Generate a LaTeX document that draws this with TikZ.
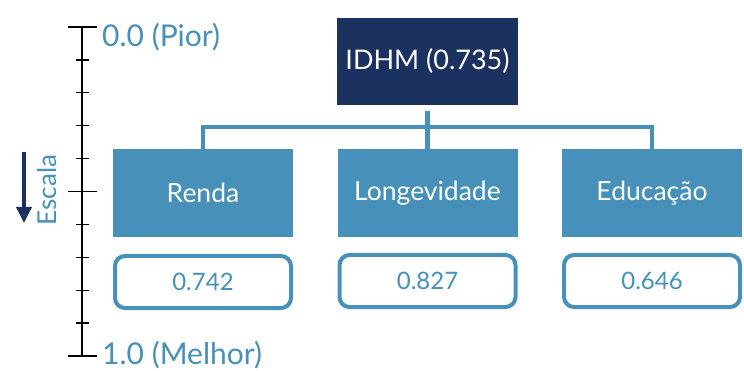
\documentclass[tikz,border=0pt]{standalone}
\usepackage{fontspec}
\setmainfont{Lato}
\usetikzlibrary{arrows.meta,calc}
\definecolor{navy}{HTML}{1B3160}
\definecolor{azul}{HTML}{4690B9}
\tikzset{
  topbox/.style={fill=navy, text=white, minimum width=181pt, minimum height=87pt, inner sep=0pt, font=\fontsize{27}{30}\selectfont},
  catbox/.style={fill=azul, text=white, minimum width=180pt, minimum height=88pt, inner sep=0pt, font=\fontsize{26.5}{30}\selectfont},
  valbox/.style={draw=azul, line width=4pt, rounded corners=10pt, fill=white, text=azul, minimum width=176pt, minimum height=52pt, inner sep=0pt, font=\fontsize{24}{28}\selectfont},
  conn/.style={draw=azul, line width=4.5pt},
  scalelbl/.style={text=azul, anchor=west, inner sep=0pt, font=\fontsize{30}{33}\selectfont},
  tick/.style={draw=black, line width=1.3pt},
}
\begin{document}
\begin{tikzpicture}[x=1pt,y=-1pt]
\useasboundingbox (0,0) rectangle (744,371);
% scale axis
\coordinate (atop) at (82,27);
\coordinate (abot) at (82,356);
\draw[tick] (atop) -- (abot);
\foreach \i in {1,2,3,4,6,7,8,9} {
  \draw[tick] ([xshift=-6pt]$(atop)!\i/10!(abot)$) -- ([xshift=7pt]$(atop)!\i/10!(abot)$);
}
\foreach \i in {0,5,10} {
  \draw[tick] ([xshift=-14pt]$(atop)!\i/10!(abot)$) -- ([xshift=15pt]$(atop)!\i/10!(abot)$);
}
\node[scalelbl] (pior) at (102,37) {0.0 (Pior)};
\node[scalelbl] (melhor) at (102,355) {1.0 (Melhor)};
\coordinate (arrtop) at (24,152);
\coordinate (arrbot) at (24,223);
\draw[navy, line width=3.5pt, -{Triangle[width=15pt,length=16pt]}] (arrtop) -- (arrbot);
\node[text=azul, rotate=90, inner sep=0pt, font=\fontsize{26}{28}\selectfont] (escala) at (47,190) {Escala};
% boxes
\node[topbox] (idhm) at (427.5,61.5) {IDHM (0.735)};
\node[catbox] (ren) at (203,193) {Renda};
\node[catbox] (lon) at (427.5,193) {Longevidade};
\node[catbox] (edu) at (652,193) {Educação};
\node[valbox] (vren) at (203,282) {0.742};
\node[valbox] (vlon) at (427.5,281) {0.827};
\node[valbox] (vedu) at (652,281) {0.646};
% connectors
\coordinate (hl) at (0,127);
\draw[conn] ([yshift=-4pt]ren.north) -- (ren.north |- hl) -- (edu.north |- hl) -- ([yshift=-4pt]edu.north);
\draw[conn] ([yshift=-6pt]idhm.south) -- ([yshift=-4pt]lon.north);
\end{tikzpicture}
\end{document}
